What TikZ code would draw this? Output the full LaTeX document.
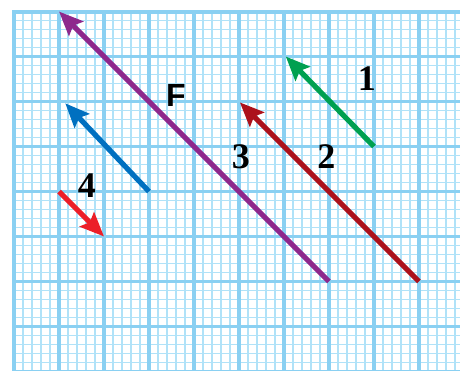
\documentclass[tikz,border=0pt]{standalone}
\usepackage{fontspec}
\setmainfont{Liberation Serif}
\newfontfamily\labelsans{Liberation Sans}
\usetikzlibrary{arrows.meta}
\definecolor{gridminor}{RGB}{176,226,248}
\definecolor{gridmajor}{RGB}{138,208,242}
\definecolor{cF}{RGB}{142,40,140}
\definecolor{cOne}{RGB}{0,160,80}
\definecolor{cTwo}{RGB}{172,18,28}
\definecolor{cBlue}{RGB}{0,112,192}
\definecolor{cFour}{RGB}{236,30,40}

\begin{document}
\begin{tikzpicture}[x=4.5pt,y=-4.5pt,
    vec/.style={line width=2.6pt,-{Stealth[length=12pt,width=10pt,inset=2pt]}},
    num/.style={font=\fontsize{18}{18}\selectfont\bfseries,inner sep=0pt},
    minorline/.style={gridminor,line width=0.8pt},
    majorline/.style={gridmajor,line width=1.6pt}
  ]
  \useasboundingbox (-1.556,-1.28) rectangle (49.56,39.94);
  % squared paper
  \begin{scope}
    \clip (0,0) rectangle (49.56,39.94);
    \foreach \i in {0,...,50} \draw[minorline] (\i,0) -- (\i,40);
    \foreach \j in {0,...,40} \draw[minorline] (0,\j) -- (50,\j);
    \foreach \i in {0,5,...,50} \draw[majorline] (\i,0) -- (\i,40);
    \foreach \j in {0,5,...,40} \draw[majorline] (0,\j) -- (50,\j);
  \end{scope}
  \draw[gridmajor,line width=2pt] (0,40) -- (0,0) -- (50,0);
  % vectors
  \coordinate (Ftail) at (35,30);
  \coordinate (Fhead) at (5,0);
  \coordinate (onetail) at (40,15);
  \coordinate (onehead) at (30.2,5);
  \coordinate (twotail) at (45,30);
  \coordinate (twohead) at (25.1,10.1);
  \coordinate (bluetail) at (15,20);
  \coordinate (bluehead) at (5.7,10.2);
  \coordinate (fourtail) at (5,20);
  \coordinate (fourhead) at (10,25);
  \draw[vec,cF] (Ftail) -- (Fhead);
  \draw[vec,cOne] (onetail) -- (onehead);
  \draw[vec,cTwo] (twotail) -- (twohead);
  \draw[vec,cBlue] (bluetail) -- (bluehead);
  \draw[vec,cFour] (fourtail) -- (fourhead);
  % labels
  \node[num] (lone) at (39.2,7.5) {1};
  \node[num] (ltwo) at (34.7,16.1) {2};
  \node[num] (lthree) at (25.2,16.1) {3};
  \node[num] (lfour) at (8.1,19.3) {4};
  \node[font=\labelsans\fontsize{16}{16}\selectfont\bfseries,inner sep=0pt] (lF) at (18,9.3) {F};
\end{tikzpicture}
\end{document}
